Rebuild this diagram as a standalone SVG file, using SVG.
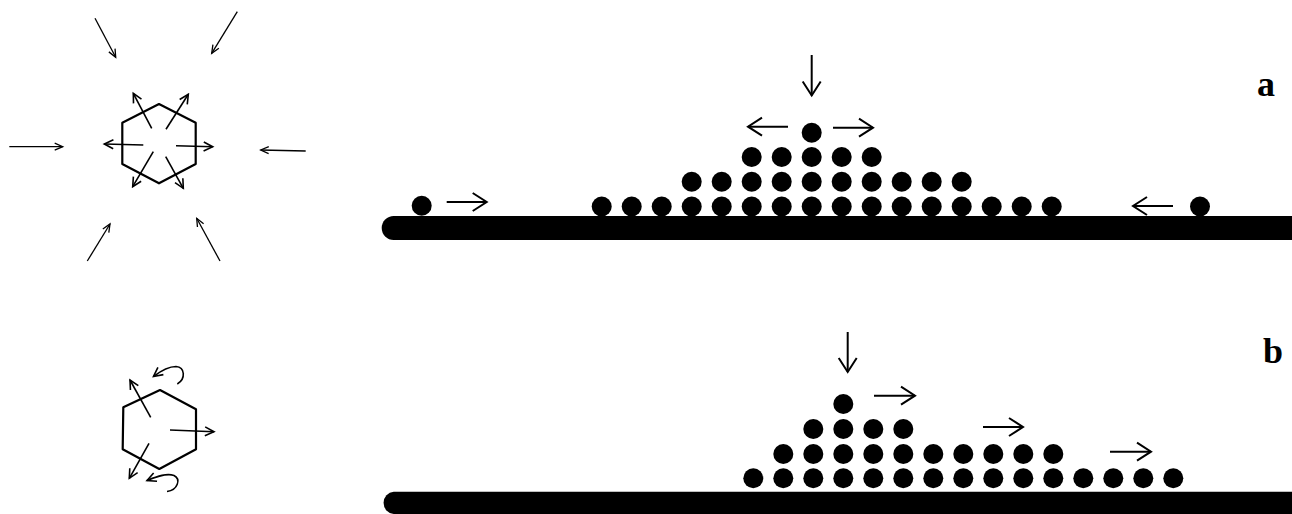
<svg xmlns="http://www.w3.org/2000/svg" width="1292" height="514" viewBox="0 0 1292 514">
<style>
.ball{fill:#000}
.bar{fill:#000}
.hex{fill:none;stroke:#000;stroke-width:2.2;stroke-linejoin:round}
.thin{fill:none;stroke:#000;stroke-width:1.3;marker-end:url(#hs)}
.med{fill:none;stroke:#000;stroke-width:1.6;marker-end:url(#hm)}
.big{fill:none;stroke:#000;stroke-width:2;marker-end:url(#hb)}
.lbl{font-family:"Liberation Serif",serif;font-weight:bold;font-size:36px;fill:#000}
</style>
<defs>
<marker id="hb" markerUnits="userSpaceOnUse" viewBox="-16 -12 18 24" refX="0" refY="0" markerWidth="18" markerHeight="24" orient="auto">
<path d="M-14,-9 L0,0 L-14,9" fill="none" stroke="#000" stroke-width="2"/>
</marker>
<marker id="hs" markerUnits="userSpaceOnUse" viewBox="-10 -6 12 12" refX="0" refY="0" markerWidth="12" markerHeight="12" orient="auto">
<path d="M-8,-3.5 L0,0 L-8,3.5" fill="none" stroke="#000" stroke-width="1.3"/>
</marker>
<marker id="hm" markerUnits="userSpaceOnUse" viewBox="-12 -7 14 14" refX="0" refY="0" markerWidth="14" markerHeight="14" orient="auto">
<path d="M-9,-4.5 L0,0 L-9,4.5" fill="none" stroke="#000" stroke-width="1.6"/>
</marker>
</defs>

<g id="hexagon-a">
<polygon class="hex" points="159,104 195.7,122.7 195.7,164 159,183.3 122.3,164 122.3,122.7"/>
</g>
<g id="hexagon-b">
<polygon class="hex" points="160,390 196,409.3 196,449.3 159.3,469 122.7,449.3 123.3,407.3"/>
</g>

<g id="bar-a"><path class="bar" d="M393.7,216 H1292 V240 H393.7 A12,12 0 0 1 393.7,216 Z"/></g>
<g id="bar-b"><path class="bar" d="M393.7,491.7 H1292 V514 H393.7 A11.2,11.2 0 0 1 393.7,491.7 Z"/></g>

<g id="pile-a">
<circle class="ball" cx="421.7" cy="205.7" r="10"/>
<circle class="ball" cx="1200" cy="206.5" r="10"/>
<circle class="ball" cx="601.7" cy="206.5" r="10"/><circle class="ball" cx="631.7" cy="206.5" r="10"/><circle class="ball" cx="661.7" cy="206.5" r="10"/><circle class="ball" cx="691.7" cy="206.5" r="10"/><circle class="ball" cx="721.7" cy="206.5" r="10"/><circle class="ball" cx="751.7" cy="206.5" r="10"/><circle class="ball" cx="781.7" cy="206.5" r="10"/><circle class="ball" cx="811.7" cy="206.5" r="10"/><circle class="ball" cx="841.7" cy="206.5" r="10"/><circle class="ball" cx="871.7" cy="206.5" r="10"/><circle class="ball" cx="901.7" cy="206.5" r="10"/><circle class="ball" cx="931.7" cy="206.5" r="10"/><circle class="ball" cx="961.7" cy="206.5" r="10"/><circle class="ball" cx="991.7" cy="206.5" r="10"/><circle class="ball" cx="1021.7" cy="206.5" r="10"/><circle class="ball" cx="1051.7" cy="206.5" r="10"/>
<circle class="ball" cx="691.7" cy="181.7" r="10"/><circle class="ball" cx="721.7" cy="181.7" r="10"/><circle class="ball" cx="751.7" cy="181.7" r="10"/><circle class="ball" cx="781.7" cy="181.7" r="10"/><circle class="ball" cx="811.7" cy="181.7" r="10"/><circle class="ball" cx="841.7" cy="181.7" r="10"/><circle class="ball" cx="871.7" cy="181.7" r="10"/><circle class="ball" cx="901.7" cy="181.7" r="10"/><circle class="ball" cx="931.7" cy="181.7" r="10"/><circle class="ball" cx="961.7" cy="181.7" r="10"/>
<circle class="ball" cx="751.7" cy="157" r="10"/><circle class="ball" cx="781.7" cy="157" r="10"/><circle class="ball" cx="811.7" cy="157" r="10"/><circle class="ball" cx="841.7" cy="157" r="10"/><circle class="ball" cx="871.7" cy="157" r="10"/>
<circle class="ball" cx="811.7" cy="132.7" r="10"/>
</g>

<g id="pile-b">
<circle class="ball" cx="753.3" cy="478.3" r="10"/><circle class="ball" cx="783.3" cy="478.3" r="10"/><circle class="ball" cx="813.3" cy="478.3" r="10"/><circle class="ball" cx="843.3" cy="478.3" r="10"/><circle class="ball" cx="873.3" cy="478.3" r="10"/><circle class="ball" cx="903.3" cy="478.3" r="10"/><circle class="ball" cx="933.3" cy="478.3" r="10"/><circle class="ball" cx="963.3" cy="478.3" r="10"/><circle class="ball" cx="993.3" cy="478.3" r="10"/><circle class="ball" cx="1023.3" cy="478.3" r="10"/><circle class="ball" cx="1053.3" cy="478.3" r="10"/><circle class="ball" cx="1083.3" cy="478.3" r="10"/><circle class="ball" cx="1113.3" cy="478.3" r="10"/><circle class="ball" cx="1143.3" cy="478.3" r="10"/><circle class="ball" cx="1173.3" cy="478.3" r="10"/>
<circle class="ball" cx="783.3" cy="454" r="10"/><circle class="ball" cx="813.3" cy="454" r="10"/><circle class="ball" cx="843.3" cy="454" r="10"/><circle class="ball" cx="873.3" cy="454" r="10"/><circle class="ball" cx="903.3" cy="454" r="10"/><circle class="ball" cx="933.3" cy="454" r="10"/><circle class="ball" cx="963.3" cy="454" r="10"/><circle class="ball" cx="993.3" cy="454" r="10"/><circle class="ball" cx="1023.3" cy="454" r="10"/><circle class="ball" cx="1053.3" cy="454" r="10"/>
<circle class="ball" cx="813.3" cy="429" r="10"/><circle class="ball" cx="843.3" cy="429" r="10"/><circle class="ball" cx="873.3" cy="429" r="10"/><circle class="ball" cx="903.3" cy="429" r="10"/>
<circle class="ball" cx="843.3" cy="404" r="10"/>
</g>

<g id="label-a"><text class="lbl" x="1257" y="96">a</text></g>
<g id="label-b"><text class="lbl" x="1263" y="363">b</text></g>

<g id="connectors">
<path class="thin" d="M95,18.3 L115.7,57.3"/>
<path class="thin" d="M237.3,11.7 L211.7,53.3"/>
<path class="thin" d="M9.3,146.7 L62.7,146.7"/>
<path class="thin" d="M305.7,151 L260.7,150"/>
<path class="thin" d="M87.3,261 L110,224"/>
<path class="thin" d="M220,261 L196.7,218.3"/>
<path class="med" d="M151.7,128.3 L133.3,93.3"/>
<path class="med" d="M166,129.3 L188.3,94.3"/>
<path class="med" d="M143.3,145 L104.3,144"/>
<path class="med" d="M176,145.7 L212.7,146.7"/>
<path class="med" d="M153.3,151.7 L132.7,186.7"/>
<path class="med" d="M165.7,156.7 L183.3,188.3"/>
<path class="med" d="M150.7,417.3 L130,380"/>
<path class="med" d="M170,430 L214,431.7"/>
<path class="med" d="M149,443.3 L129.3,478.3"/>
<path class="med" d="M177.3,384 C186,379 185,367 176,366.5 C169,366.5 162,370 153.5,376.5"/>
<path class="med" d="M167,491.5 C178,490 181,479 174,475.5 C167,473 158,476 147,480.5"/>
<path class="big" d="M811.7,55 L811.7,95.5"/>
<path class="big" d="M446.7,202 L486.7,202"/>
<path class="big" d="M788,126.7 L748,126.7"/>
<path class="big" d="M833,127.7 L873,127.7"/>
<path class="big" d="M1173,206 L1133,206"/>
<path class="big" d="M847.7,332 L847.7,372"/>
<path class="big" d="M874,395.7 L915,395.7"/>
<path class="big" d="M983,427 L1023,427"/>
<path class="big" d="M1110,451.7 L1151,451.7"/>
</g>
</svg>
